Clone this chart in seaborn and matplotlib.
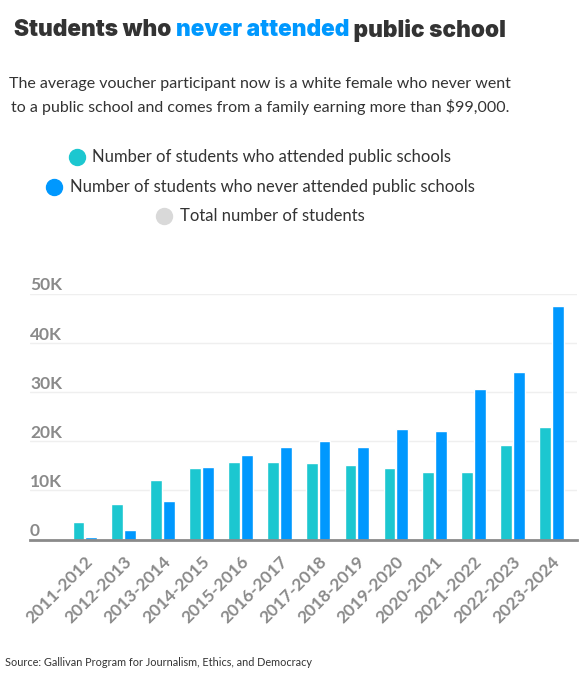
import pandas as pd
import matplotlib.pyplot as plt
import seaborn as sns
from matplotlib.lines import Line2D

# Data
seasons = ["2011-2012", "2012-2013", "2013-2014", "2014-2015", "2015-2016",
           "2016-2017", "2017-2018", "2018-2019", "2019-2020", "2020-2021",
           "2021-2022", "2022-2023", "2023-2024"]
attended = [3600, 7300, 12050, 14500, 15700, 15700, 15500, 15200, 14500,
            13800, 13800, 19300, 22900]
never_attended = [500, 2000, 7850, 14750, 17200, 18800, 20100, 18800, 22400,
                  22100, 30500, 34100, 47400]
y_ticks = [0, 10000, 20000, 30000, 40000, 50000]
y_tick_labels = ["0", "10K", "20K", "30K", "40K", "50K"]

legend_labels = ["Number of students who attended public schools",
                 "Number of students who never attended public schools",
                 "Total number of students"]
TEAL = "#1cc7d0"
BLUE = "#0098fe"
GREY = "#d9d9d9"
DARK = "#333333"
TICK_GREY = "#8a8a8a"

df = pd.DataFrame({
    "season": seasons * 2,
    "students": attended + never_attended,
    "group": [legend_labels[0]] * len(seasons) + [legend_labels[1]] * len(seasons),
})

sns.set_style("white")
plt.rcParams["font.family"] = ["Lato", "DejaVu Sans"]

W, H = 587, 680
fig = plt.figure(figsize=(W / 100, H / 100), dpi=100)
ax = fig.add_axes([30 / W, 1 - 539.5 / H, (577 - 30) / W, (539.5 - 293.5) / H])

sns.barplot(data=df, x="season", y="students", hue="group",
            palette=[TEAL, BLUE], width=0.66, gap=0.08, saturation=1,
            legend=False, ax=ax, zorder=3)

ax.set_xlim(-1.41, 12.66)
ax.set_ylim(0, 50000)
ax.set_xlabel("")
ax.set_ylabel("")

# gridlines
for v in y_ticks[1:]:
    ax.axhline(v, color="#efefef", lw=1, zorder=0)

for s in ["top", "left", "right"]:
    ax.spines[s].set_visible(False)
ax.spines["bottom"].set_color(TICK_GREY)
ax.spines["bottom"].set_linewidth(2)
ax.spines["bottom"].set_zorder(4)

# y labels sit above the gridlines, left aligned
ax.set_yticks(y_ticks)
ax.set_yticklabels(y_tick_labels)
ax.tick_params(axis="y", length=0, pad=0)
for lab in ax.get_yticklabels():
    lab.set_ha("left")
    lab.set_va("bottom")
    lab.set_fontsize(12.5)
    lab.set_fontweight("bold")
    lab.set_color(TICK_GREY)

# x ticks: marks on category boundaries, labels at centers
ax.set_xticks(range(len(seasons)))
ax.set_xticklabels(seasons, rotation=45, ha="right", rotation_mode="anchor",
                   fontsize=12.5, fontweight="bold", color=TICK_GREY)
ax.tick_params(axis="x", which="major", length=0, pad=10)
ax.set_xticks([i - 0.5 for i in range(len(seasons) + 1)], minor=True)
ax.tick_params(axis="x", which="minor", length=8, width=1, color=TICK_GREY)

fig.canvas.draw()
renderer = fig.canvas.get_renderer()


def text_width(t):
    return t.get_window_extent(renderer).width


# Title in three colored pieces
title_parts = [("Students who ", DARK), ("never attended", BLUE), (" public school", DARK)]
pieces = [fig.text(0, 1 - 30 / H, p, color=c, fontsize=16.3, fontweight="black",
                   family=["Inter", "DejaVu Sans"], va="center", ha="left")
          for p, c in title_parts]
total = sum(text_width(t) for t in pieces)
x = 260 - total / 2
for t in pieces:
    t.set_x(x / W)
    x += text_width(t)

fig.text(260 / W, 1 - 96 / H,
         "The average voucher participant now is a white female who never went\n"
         "to a public school and comes from a family earning more than $99,000.",
         ha="center", va="center", fontsize=11.5, color=DARK, linespacing=1.55)

# Legend rows, each centered
for label, color, yy in zip(legend_labels, [TEAL, BLUE, GREY], [157, 187, 216]):
    t = fig.text(0, 1 - yy / H, label, ha="left", va="center", fontsize=12,
                 color=DARK)
    w = text_width(t)
    left = 260 - (16 + 8 + w) / 2
    t.set_x((left + 24) / W)
    fig.add_artist(Line2D([(left + 8) / W], [1 - yy / H], transform=fig.transFigure,
                          marker="o", ms=11.5, color=color, linestyle="none"))

fig.text(5 / W, 1 - 663 / H,
         "Source: Gallivan Program for Journalism, Ethics, and Democracy",
         ha="left", va="center", fontsize=7.8, color=DARK)

fig.savefig("out.png", dpi=100)
